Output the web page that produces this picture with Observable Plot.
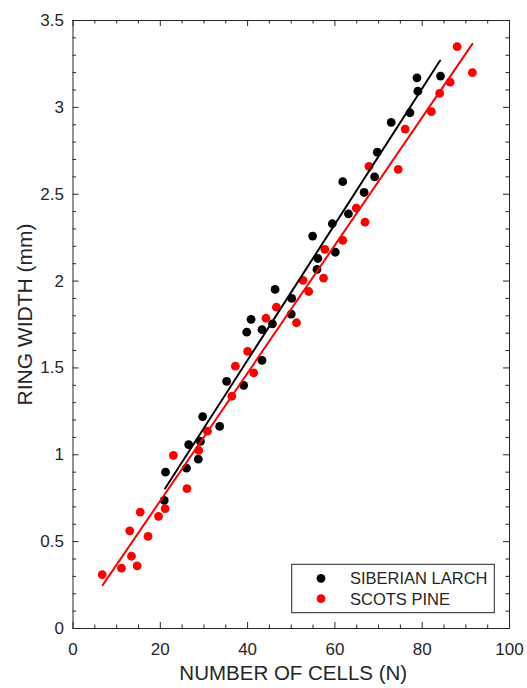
<!DOCTYPE html>
<html><head><meta charset="utf-8">
<script src="https://cdn.jsdelivr.net/npm/d3@7"></script>
<script src="https://cdn.jsdelivr.net/npm/@observablehq/plot@0.6"></script>
<style>body{margin:0;background:#fff}</style>
</head><body><div id="chart"></div>
<script>
// ---- data ----
const seriesNames = ["SIBERIAN LARCH", "SCOTS PINE"];
const seriesColors = ["#000000", "#ff0000"];

const larchX = [20.9,21.2,26.0,26.5,28.7,29.2,29.7,33.6,35.2,39.1,39.8,40.8,43.3,43.3,45.7,46.3,50.0,50.1,54.9,55.9,56.1,59.4,60.1,61.8,63.1,66.7,69.1,69.7,72.9,77.2,78.8,79.0,84.2];
const larchY = [0.737,0.90,0.923,1.059,0.975,1.077,1.22,1.163,1.423,1.40,1.706,1.78,1.72,1.543,1.754,1.952,1.81,1.90,2.259,2.067,2.13,2.33,2.166,2.572,2.387,2.51,2.60,2.742,2.913,2.969,3.17,3.093,3.18];

const pineX = [6.7,11.1,13.0,13.4,14.7,15.4,17.2,19.6,21.1,23.0,26.1,28.8,30.8,36.4,37.2,40.0,41.4,44.2,46.6,51.2,52.7,54.0,57.4,57.7,61.8,64.9,66.9,67.8,74.5,76.1,82.1,84.0,86.4,88.0,91.5];
const pineY = [0.31,0.347,0.562,0.416,0.36,0.67,0.53,0.646,0.69,0.996,0.805,1.025,1.136,1.337,1.51,1.595,1.472,1.786,1.85,1.76,2.004,1.94,2.017,2.182,2.234,2.42,2.339,2.66,2.643,2.875,2.975,3.08,3.145,3.35,3.20];

// linear fits (slope, intercept, x-range) per series
const fitSlope = [0.03911, 0.03679];
const fitIntercept = [-0.0193, -0.0005];
const fitXStart = [21.1, 6.8];
const fitXEnd = [84.1, 91.5];

const xMajor = [0, 20, 40, 60, 80, 100];
const xMinor = [5,10,15,25,30,35,45,50,55,65,70,75,85,90,95];
const yMajor = [0, 0.5, 1, 1.5, 2, 2.5, 3, 3.5];
const yMinor = [0.1,0.2,0.3,0.4,0.6,0.7,0.8,0.9,1.1,1.2,1.3,1.4,1.6,1.7,1.8,1.9,2.1,2.2,2.3,2.4,2.6,2.7,2.8,2.9,3.1,3.2,3.3,3.4];
const xTitle = "NUMBER OF CELLS (N)";
const yTitle = "RING WIDTH (mm)";

// ---- build tables ----
const larch = larchX.map((x, i) => ({x, y: larchY[i]}));
const pine = pineX.map((x, i) => ({x, y: pineY[i]}));
const fits = seriesNames.map((s, i) => [
  {x: fitXStart[i], y: fitSlope[i] * fitXStart[i] + fitIntercept[i]},
  {x: fitXEnd[i], y: fitSlope[i] * fitXEnd[i] + fitIntercept[i]}
]);

const W = 527, H = 688, mL = 72.5, mR = 18, mT = 20, mB = 60;
const pw = W - mL - mR, ph = H - mT - mB;
const ink = "#262626";
const font = "'Liberation Sans', Arial, Helvetica, sans-serif";
const R = 4.4;

const plot = Plot.plot({
  width: W, height: H,
  marginLeft: mL, marginRight: mR, marginTop: mT, marginBottom: mB,
  style: {fontFamily: font, fontSize: "17px", color: ink, background: "#fff"},
  x: {domain: [0, 100]},
  y: {domain: [0, 3.5]},
  marks: [
    Plot.dot(larch, {x: "x", y: "y", r: R, fill: seriesColors[0], stroke: "none"}),
    Plot.dot(pine, {x: "x", y: "y", r: R, fill: seriesColors[1], stroke: "none"}),
    Plot.line(fits[0], {x: "x", y: "y", stroke: seriesColors[0], strokeWidth: 2}),
    Plot.line(fits[1], {x: "x", y: "y", stroke: seriesColors[1], strokeWidth: 2}),
    // inward ticks, bottom/top/left/right
    Plot.tickX(xMinor, {x: d => d, stroke: ink, insetTop: ph - 3.5}),
    Plot.tickX(xMinor, {x: d => d, stroke: ink, insetBottom: ph - 3.5}),
    Plot.tickX(xMajor, {x: d => d, stroke: ink, insetTop: ph - 6}),
    Plot.tickX(xMajor, {x: d => d, stroke: ink, insetBottom: ph - 6}),
    Plot.tickY(yMinor, {y: d => d, stroke: ink, insetRight: pw - 3.5}),
    Plot.tickY(yMinor, {y: d => d, stroke: ink, insetLeft: pw - 3.5}),
    Plot.tickY(yMajor, {y: d => d, stroke: ink, insetRight: pw - 6}),
    Plot.tickY(yMajor, {y: d => d, stroke: ink, insetLeft: pw - 6}),
    Plot.axisX({ticks: xMajor, tickSize: 0, tickPadding: 14, fontSize: 17, label: null, fill: ink}),
    Plot.axisY({ticks: yMajor, tickSize: 0, tickPadding: 9, fontSize: 17, label: null, fill: ink, tickFormat: d => String(d)}),
    Plot.frame({stroke: ink, strokeWidth: 1}),
    Plot.text([xTitle], {text: d => d, frameAnchor: "bottom", dx: 2, dy: 51, fontSize: 20.5, fill: ink, textAnchor: "middle"}),
    Plot.text([yTitle], {text: d => d, frameAnchor: "left", dx: -48, dy: -10, rotate: -90, fontSize: 21, fill: ink, textAnchor: "middle"})
  ]
});

// legend inside the plot area, bottom-right
const svg = d3.select(plot);
const lw = 202.6, lh = 48.4;
const lx = W - mR - 14.7 - lw, ly = H - mB - 15.3 - lh;
const g = svg.append("g").attr("font-family", font).attr("font-size", 16.5)
  .attr("fill", ink).attr("text-anchor", "start");
g.append("rect").attr("x", lx).attr("y", ly).attr("width", lw).attr("height", lh)
  .attr("fill", "#fff").attr("stroke", ink).attr("stroke-width", 1);
seriesNames.forEach((name, i) => {
  const cy = ly + 14 + i * 20.4;
  g.append("circle").attr("cx", lx + 29.3).attr("cy", cy).attr("r", R).attr("fill", seriesColors[i]);
  g.append("text").attr("x", lx + 58.3).attr("y", cy).attr("dy", "0.36em")
    .attr("text-anchor", "start").text(name);
});

document.getElementById("chart").appendChild(plot);
</script>
</body></html>
